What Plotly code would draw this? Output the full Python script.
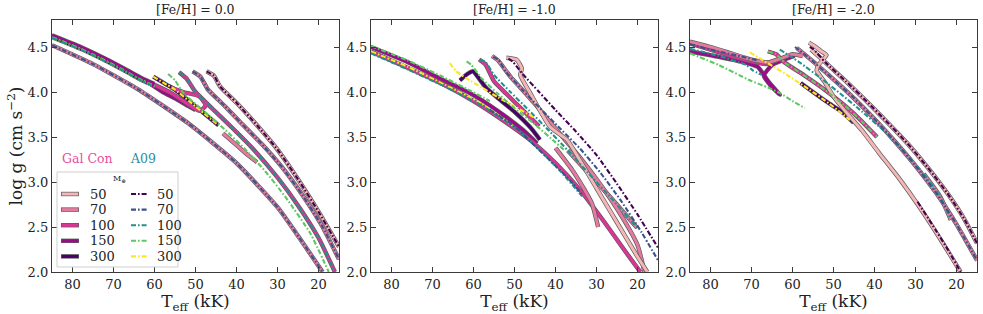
import plotly.graph_objects as go

# ---------------- data ----------------
mass_labels = ["50", "70", "100", "150", "300"]
gc_colors = ["#f4b6b6", "#e47a9f", "#dd3497", "#9c0a8c", "#49006a"]
a09_colors = ["#440154", "#3b528b", "#21918c", "#5ec962", "#fde725"]
panel_titles = ["[Fe/H] = 0.0", "[Fe/H] = -1.0", "[Fe/H] = -2.0"]
x_ticks = [80, 70, 60, 50, 40, 30, 20]
y_ticks = [2.0, 2.5, 3.0, 3.5, 4.0, 4.5]

# ---- [Fe/H] = 0.0 : Gal Con ----
gc50_teff_00 = [47.3, 45.5, 44, 40, 35, 30, 25, 20, 15]
gc50_logg_00 = [4.23, 4.18, 4.06, 3.88, 3.63, 3.36, 3.03, 2.67, 2.28]
gc70_teff_00 = [85, 75, 64, 52, 40, 30, 19, None, 50.7, 48.8, 47, 43, 39, 34, 29, 24, 19, 15, None, 43.3, 40, 37, 35]
gc70_logg_00 = [4.52, 4.31, 4.03, 3.66, 3.21, 2.72, 2.0, None, 4.23, 4.17, 4.03, 3.85, 3.66, 3.43, 3.17, 2.86, 2.5, 2.14, None, 3.54, 3.41, 3.29, 3.22]
gc100_teff_00 = [60, 56, 52, 49, 47.5, 49, 53, 56, None, 54, 52.2, 50, 46, 41, 36, 30, 25, 20, 16]
gc100_logg_00 = [4.08, 3.99, 3.87, 3.79, 3.85, 3.95, 4.0, 4.05, None, 4.22, 4.15, 4.0, 3.82, 3.6, 3.37, 3.05, 2.74, 2.38, 2.0]
gc150_teff_00 = [85, 78, 72, 67, 63, 60, None, 62, 58, 55, 52, 50]
gc150_logg_00 = [4.63, 4.5, 4.37, 4.25, 4.15, 4.09, None, 4.12, 4.0, 3.93, 3.85, 3.8]
gc300_teff_00 = [85, 78, 72, 67, 63, 60, None, 60.3, 57, 55.4, 50, 44.4]
gc300_logg_00 = [4.61, 4.48, 4.35, 4.23, 4.13, 4.07, None, 4.17, 4.08, 4.04, 3.84, 3.63]
# ---- [Fe/H] = 0.0 : A09 ----
a50_teff_00 = [47.3, 45.5, 44, 40, 35, 30, 25, 20, 15]
a50_logg_00 = [4.23, 4.18, 4.06, 3.88, 3.63, 3.36, 3.03, 2.67, 2.28]
a70_teff_00 = [85, 75, 64, 52, 40, 30, 19, None, 50.7, 48.8, 47, 43, 39, 34, 29, 24, 19, 15]
a70_logg_00 = [4.52, 4.31, 4.03, 3.66, 3.21, 2.72, 2.0, None, 4.23, 4.17, 4.03, 3.85, 3.66, 3.43, 3.17, 2.86, 2.5, 2.14]
a100_teff_00 = [85, 78, 72, 67, 63, 60, None, 54, 52.2, 50, 46, 41, 36, 30, 25, 20, 16]
a100_logg_00 = [4.6, 4.47, 4.34, 4.22, 4.12, 4.06, None, 4.22, 4.15, 4.0, 3.82, 3.6, 3.37, 3.05, 2.74, 2.38, 2.0]
a150_teff_00 = [85, 78, 72, 67, 63, 60, None, 56.7, 55, 53, 48, 43, 38, 33, 28, 22, 17.5]
a150_logg_00 = [4.61, 4.48, 4.35, 4.23, 4.13, 4.07, None, 4.2, 4.13, 3.99, 3.79, 3.59, 3.37, 3.12, 2.83, 2.43, 2.0]
a300_teff_00 = [85, 78, 72, 67, 63, 60, None, 60.3, 57, 55.4, 50, 44.4]
a300_logg_00 = [4.6, 4.47, 4.34, 4.22, 4.12, 4.06, None, 4.17, 4.08, 4.04, 3.84, 3.63]

# ---- [Fe/H] = -1.0 : Gal Con ----
gc50_teff_10 = [52, 49.5, 48.2, 48.6, 46.2, 41.3, 37.2, 35.6, 30, 25, 20, 17.6]
gc50_logg_10 = [4.38, 4.36, 4.26, 4.19, 3.99, 3.61, 3.47, 3.36, 2.93, 2.55, 2.17, 2.0]
gc70_teff_10 = [55.5, 54, 51, 47, 43, 39, 34, 29, 24, 20, 18.3, None, 40, 36, 33, 31.1, 29.6, None, 37, 32, 26, 20.1]
gc70_logg_10 = [4.4, 4.35, 4.17, 3.97, 3.76, 3.54, 3.27, 2.97, 2.63, 2.3, 2.0, None, 3.38, 3.14, 2.92, 2.76, 2.5, None, 3.35, 3.1, 2.8, 2.49]
gc100_teff_10 = [85, 77, 68, 60, 52, 46, 40, 34, 28, 23, 19.3, None, 58.6, 57, 55, 52, 48, 44]
gc100_logg_10 = [4.45, 4.29, 4.1, 3.9, 3.66, 3.46, 3.21, 2.91, 2.55, 2.23, 2.0, None, 4.36, 4.3, 4.12, 3.98, 3.8, 3.62]
gc150_teff_10 = [85, 76, 68.2, 61, 54.4, 48, 44.5]
gc150_logg_10 = [4.5, 4.33, 4.15, 3.99, 3.8, 3.58, 3.43]
gc300_teff_10 = [63.3, 61.5, 60.1, 59, 57, 54, 50, 46, 43.8]
gc300_logg_10 = [4.13, 4.2, 4.23, 4.17, 4.05, 3.93, 3.78, 3.6, 3.47]
# ---- [Fe/H] = -1.0 : A09 ----
a50_teff_10 = [51.5, 50.5, 48, 44, 40, 35, 30, 25, 20, 15]
a50_logg_10 = [4.37, 4.34, 4.2, 4.0, 3.8, 3.56, 3.3, 2.98, 2.64, 2.27]
a70_teff_10 = [55.2, 54, 52, 48, 44, 39, 34, 29, 24, 19, 15, None, 56, 50, 45, 40, 36, 33.5]
a70_logg_10 = [4.39, 4.36, 4.22, 4.02, 3.83, 3.6, 3.37, 3.1, 2.79, 2.44, 2.13, None, 3.8, 3.62, 3.4, 3.18, 3.0, 2.86]
a100_teff_10 = [58.4, 57, 55, 51, 47, 42, 37, 32, 26, 20.1, None, 85, 76, 67, 58, 50, 44, 39, 33.5]
a100_logg_10 = [4.36, 4.33, 4.19, 4.0, 3.82, 3.59, 3.35, 3.1, 2.8, 2.49, None, 4.43, 4.25, 4.06, 3.85, 3.61, 3.36, 3.13, 2.84]
a150_teff_10 = [61.7, 60.5, 58, 54, 50, 45, 40, 38, None, 85, 76, 68, 61, 56]
a150_logg_10 = [4.34, 4.3, 4.15, 3.98, 3.82, 3.64, 3.44, 3.36, None, 4.51, 4.35, 4.18, 4.02, 3.9]
a300_teff_10 = [65.8, 64.2, 62, 58, 54, 50, 45.4, None, 85, 76, 67, 58, 50.3]
a300_logg_10 = [4.32, 4.23, 4.16, 4.05, 3.94, 3.84, 3.72, None, 4.45, 4.28, 4.08, 3.87, 3.62]

# ---- [Fe/H] = -2.0 : Gal Con ----
gc50_teff_20 = [56, 54.3, 52.9, 51.7, 53.7, 54.1, 52, 50, 47, 43, 39, 34, 29, 24, 19, None, 55.5, 52, 47, 42, 37, 32, 27, 22, 18, 15]
gc50_logg_20 = [4.55, 4.5, 4.45, 4.41, 4.3, 4.24, 4.1, 3.95, 3.78, 3.57, 3.33, 3.04, 2.72, 2.37, 2.0, None, 4.47, 4.33, 4.12, 3.9, 3.67, 3.43, 3.16, 2.86, 2.58, 2.32]
gc70_teff_20 = [85, 80, 75, 70, 66, 63, 60, 57.5, None, 59, 55, 50, 45, 40, 35, 30, 25, 20, 15, None, 28, 24, 21.4]
gc70_logg_20 = [4.56, 4.5, 4.43, 4.36, 4.33, 4.37, 4.42, 4.4, None, 4.49, 4.34, 4.14, 3.93, 3.7, 3.45, 3.18, 2.88, 2.53, 2.13, None, 3.09, 2.84, 2.58]
gc100_teff_20 = [85, 80, 75, 70, 66.5, 64, 61, None, 66, 64, 62, 57, 52, 47, 43, 39.4]
gc100_logg_20 = [4.54, 4.47, 4.4, 4.34, 4.31, 4.35, 4.4, None, 4.45, 4.42, 4.33, 4.18, 4.02, 3.84, 3.67, 3.5]
gc150_teff_20 = [85, 78, 71, 68.5, 65.6, 63.1, 65.5, 67, 65, 62, 59.5]
gc150_logg_20 = [4.45, 4.39, 4.32, 4.28, 4.1, 3.97, 4.08, 4.18, 4.3, 4.36, 4.4]
gc300_teff_20 = [58, 55, 51.3, 48, 45.1]
gc300_logg_20 = [4.1, 4.0, 3.88, 3.78, 3.66]
# ---- [Fe/H] = -2.0 : A09 ----
a50_teff_20 = [55.8, 55, 52, 47, 42, 37, 32, 27, 22, 18, 15, None, 29.5, 25, 22, 19]
a50_logg_20 = [4.5, 4.48, 4.33, 4.12, 3.9, 3.67, 3.43, 3.16, 2.86, 2.58, 2.32, None, 2.78, 2.46, 2.24, 2.0]
a70_teff_20 = [85, 78, 72, 68.4, None, 59.4, 58.5, 55, 50, 45, 40, 35, 30, 25, 20, 15]
a70_logg_20 = [4.53, 4.45, 4.39, 4.35, None, 4.5, 4.47, 4.34, 4.14, 3.93, 3.7, 3.45, 3.18, 2.88, 2.53, 2.13]
a100_teff_20 = [85, 78, 71.3, 69.7, 67.5, None, 63.1, 62, 58, 53, 48, 43, 38, 33, 28, 24, 21.4]
a100_logg_20 = [4.48, 4.4, 4.3, 4.24, 4.19, None, 4.47, 4.44, 4.32, 4.15, 3.97, 3.78, 3.58, 3.35, 3.09, 2.84, 2.58]
a150_teff_20 = [85, 78, 70.4, 66, 63.1, 60, 57, None, 66, 64, 62, 57, 52, 47, 43, 39.4]
a150_logg_20 = [4.43, 4.3, 4.13, 4.05, 3.99, 3.9, 3.82, None, 4.45, 4.42, 4.33, 4.18, 4.02, 3.84, 3.67, 3.5]
a300_teff_20 = [70.4, 66, 61, 56, 51, 46]
a300_logg_20 = [4.44, 4.32, 4.18, 4.03, 3.87, 3.69]

panels_gc = [
    [(gc50_teff_00, gc50_logg_00), (gc70_teff_00, gc70_logg_00), (gc100_teff_00, gc100_logg_00),
     (gc150_teff_00, gc150_logg_00), (gc300_teff_00, gc300_logg_00)],
    [(gc50_teff_10, gc50_logg_10), (gc70_teff_10, gc70_logg_10), (gc100_teff_10, gc100_logg_10),
     (gc150_teff_10, gc150_logg_10), (gc300_teff_10, gc300_logg_10)],
    [(gc50_teff_20, gc50_logg_20), (gc70_teff_20, gc70_logg_20), (gc100_teff_20, gc100_logg_20),
     (gc150_teff_20, gc150_logg_20), (gc300_teff_20, gc300_logg_20)],
]
panels_a09 = [
    [(a50_teff_00, a50_logg_00), (a70_teff_00, a70_logg_00), (a100_teff_00, a100_logg_00),
     (a150_teff_00, a150_logg_00), (a300_teff_00, a300_logg_00)],
    [(a50_teff_10, a50_logg_10), (a70_teff_10, a70_logg_10), (a100_teff_10, a100_logg_10),
     (a150_teff_10, a150_logg_10), (a300_teff_10, a300_logg_10)],
    [(a50_teff_20, a50_logg_20), (a70_teff_20, a70_logg_20), (a100_teff_20, a100_logg_20),
     (a150_teff_20, a150_logg_20), (a300_teff_20, a300_logg_20)],
]

# ---------------- figure ----------------
W, H = 983, 314
ML, MR, MT, MB = 52, 6, 20, 42
PW, PH = W - ML - MR, H - MT - MB
FONT = "DejaVu Serif"
DASH = "5px,2px,1.6px,2px"
OUTLINE = "#5c5c5c"


def px_x(p):  # pixel -> paper x
    return (p - ML) / PW


def px_y(p):  # pixel -> paper y
    return (H - MB - p) / PH


fig = go.Figure()
for i in range(3):
    xa = "x" if i == 0 else f"x{i+1}"
    ya = "y" if i == 0 else f"y{i+1}"
    for k in range(4, -1, -1):
        tx, ty = panels_gc[i][k]
        fig.add_trace(go.Scatter(x=tx, y=ty, mode="lines", xaxis=xa, yaxis=ya,
                                 line=dict(color=OUTLINE, width=4.4, shape="spline", smoothing=0.5),
                                 hoverinfo="skip", showlegend=False))
        fig.add_trace(go.Scatter(x=tx, y=ty, mode="lines", xaxis=xa, yaxis=ya,
                                 line=dict(color=gc_colors[k], width=3.0, shape="spline", smoothing=0.5),
                                 hoverinfo="skip", showlegend=False))
    for k in range(4, -1, -1):
        tx, ty = panels_a09[i][k]
        fig.add_trace(go.Scatter(x=tx, y=ty, mode="lines", xaxis=xa, yaxis=ya,
                                 line=dict(color=a09_colors[k], width=2.1, dash=DASH, shape="spline", smoothing=0.5),
                                 hoverinfo="skip", showlegend=False))

domains = [(52, 339), (371, 658), (690, 977)]
axis_common = dict(showgrid=False, zeroline=False, showline=True, linecolor="#3a3a3a", linewidth=1.2,
                   ticks="inside", ticklen=5, tickwidth=1, tickcolor="#3a3a3a", mirror="ticks",
                   tickfont=dict(family=FONT, size=13, color="#222"))
layout = dict(width=W, height=H, margin=dict(l=ML, r=MR, t=MT, b=MB, autoexpand=False),
              paper_bgcolor="white", plot_bgcolor="white", showlegend=False)
for i, (a, b) in enumerate(domains):
    xk = "xaxis" if i == 0 else f"xaxis{i+1}"
    yk = "yaxis" if i == 0 else f"yaxis{i+1}"
    anchor_x = "y" if i == 0 else f"y{i+1}"
    anchor_y = "x" if i == 0 else f"x{i+1}"
    layout[xk] = dict(axis_common, domain=[px_x(a), px_x(b)], range=[85, 15], anchor=anchor_x,
                      tickvals=x_ticks, ticktext=[str(v) for v in x_ticks],
                      title=dict(text="T<sub>eff</sub> (kK)", font=dict(family=FONT, size=17, color="#222"),
                                 standoff=2))
    ydict = dict(axis_common, domain=[0, 1], range=[2.0, 4.8], anchor=anchor_y,
                 tickvals=y_ticks, ticktext=[f"{v:.1f}" for v in y_ticks])
    if i == 0:
        ydict["title"] = dict(text="log g (cm s<sup>−2</sup>)", font=dict(family=FONT, size=17, color="#222"),
                              standoff=0)
    layout[yk] = ydict
fig.update_layout(**layout)

# panel titles
for i, (a, b) in enumerate(domains):
    fig.add_annotation(x=px_x((a + b) / 2), y=px_y(10), xref="paper", yref="paper", text=panel_titles[i],
                       showarrow=False, font=dict(family=FONT, size=12.5, color="#222"),
                       xanchor="center", yanchor="middle")

# legend (manual, inside first panel)
fig.add_shape(type="rect", xref="paper", yref="paper", x0=px_x(57), x1=px_x(178), y0=px_y(267), y1=px_y(172),
              line=dict(color="#cfcfcf", width=1), fillcolor="rgba(255,255,255,0.85)", layer="above")
fig.add_annotation(x=px_x(87), y=px_y(158), xref="paper", yref="paper", text="Gal Con", showarrow=False,
                   font=dict(family=FONT, size=12.5, color="#e6509c"), xanchor="center", yanchor="middle")
fig.add_annotation(x=px_x(143), y=px_y(158), xref="paper", yref="paper", text="A09", showarrow=False,
                   font=dict(family=FONT, size=12.5, color="#2e8d9e"), xanchor="center", yanchor="middle")
fig.add_annotation(x=px_x(119), y=px_y(179), xref="paper", yref="paper", text="M<sub>⊛</sub>", showarrow=False,
                   font=dict(family=FONT, size=8, color="#222"), xanchor="center", yanchor="middle")
for j, lab in enumerate(mass_labels):
    yy = px_y(194 + j * 15.6)
    fig.add_shape(type="line", xref="paper", yref="paper", x0=px_x(61), x1=px_x(79), y0=yy, y1=yy,
                  line=dict(color=OUTLINE, width=4.4), layer="above")
    fig.add_shape(type="line", xref="paper", yref="paper", x0=px_x(61.7), x1=px_x(78.3), y0=yy, y1=yy,
                  line=dict(color=gc_colors[j], width=3.0), layer="above")
    fig.add_shape(type="line", xref="paper", yref="paper", x0=px_x(131), x1=px_x(148), y0=yy, y1=yy,
                  line=dict(color=a09_colors[j], width=2.1, dash=DASH), layer="above")
    fig.add_annotation(x=px_x(88), y=yy, xref="paper", yref="paper", text=lab, showarrow=False,
                       font=dict(family=FONT, size=13, color="#222"), xanchor="left", yanchor="middle")
    fig.add_annotation(x=px_x(155), y=yy, xref="paper", yref="paper", text=lab, showarrow=False,
                       font=dict(family=FONT, size=13, color="#222"), xanchor="left", yanchor="middle")

# remove the default page margin so the 983x314 figure fills the window exactly
fig.write_html("out.html", config={"displayModeBar": False},
               post_script="document.body.style.margin='0';document.body.style.overflow='hidden';")
